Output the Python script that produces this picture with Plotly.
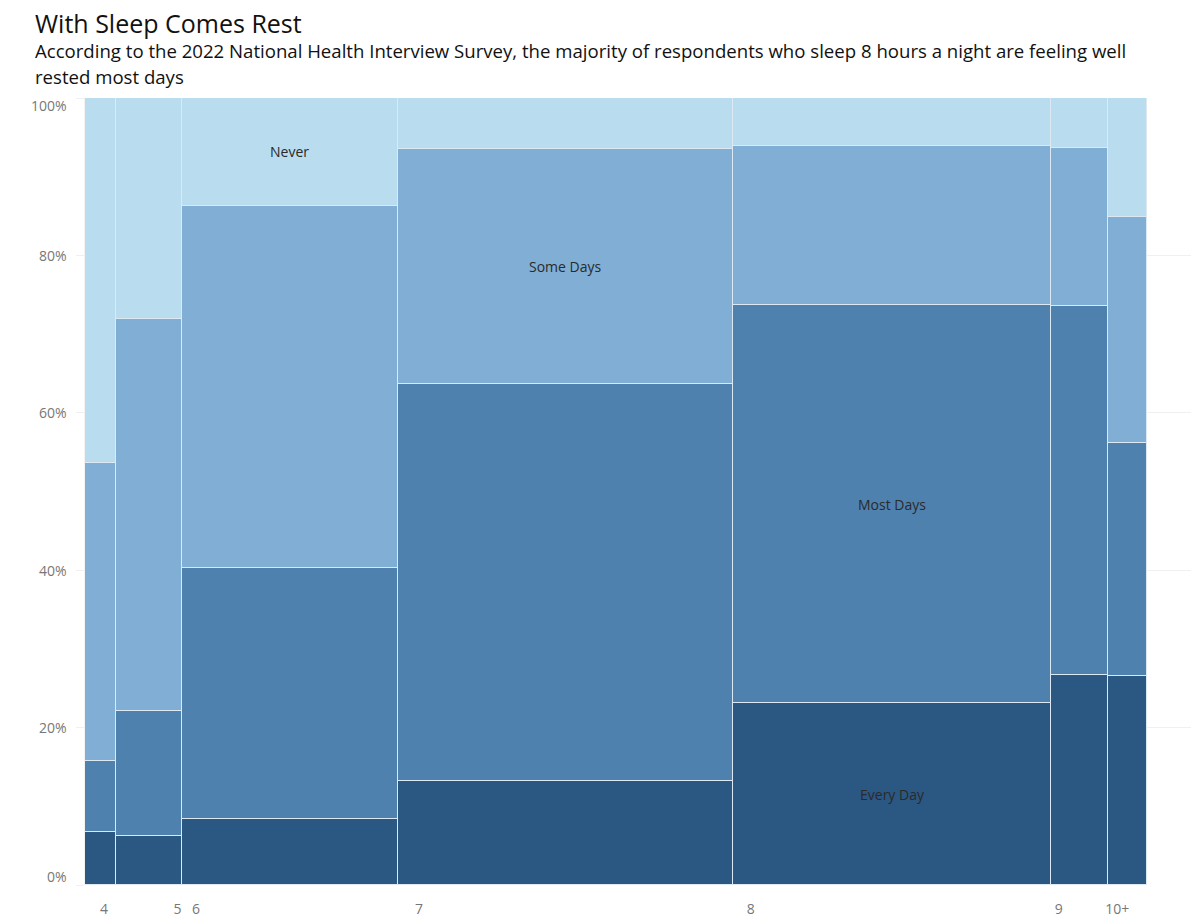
import plotly.graph_objects as go

# ---- data ----
hours = ["4", "5", "6", "7", "8", "9", "10+"]
share_of_respondents = [2.9, 6.2, 20.4, 31.5, 30.0, 5.3, 3.7]   # column widths (%)
every_day = [6.7, 6.2, 8.4, 13.2, 23.1, 26.7, 26.6]
most_days = [9.1, 15.9, 31.9, 50.5, 50.6, 46.9, 29.6]
some_days = [37.8, 49.8, 46.0, 29.8, 20.2, 20.0, 28.7]
never = [46.4, 28.1, 13.7, 6.5, 6.1, 6.4, 15.1]
series_names = ["Every Day", "Most Days", "Some Days", "Never"]
y_ticks = [0, 20, 40, 60, 80, 100]

# ---- layout constants ----
colors = ["#2b5783", "#4f81af", "#80aed4", "#b9dcef"]
border = "#dce8f2"
tick_offsets = [1.8, 5.8, 1.35, 1.95, 1.7, 0.7, 0.9]
label_cols = {"Never": 2, "Some Days": 3, "Most Days": 4, "Every Day": 4}
y_label_shift = {0: 9, 100: -7}

starts = []
acc = 0.0
for w in share_of_respondents:
    starts.append(acc)
    acc += w
centers = [s + w / 2 for s, w in zip(starts, share_of_respondents)]
total = acc

series = [every_day, most_days, some_days, never]

fig = go.Figure()
for name, vals, col in zip(series_names, series, colors):
    fig.add_trace(go.Bar(
        x=centers, y=vals, width=share_of_respondents, name=name,
        marker=dict(color=col, line=dict(color=border, width=1.2)),
        hoverinfo="name+y", showlegend=False,
    ))

# segment labels at segment centres
for si, name in enumerate(series_names):
    ci = label_cols[name]
    base = sum(series[k][ci] for k in range(si))
    fig.add_annotation(
        x=centers[ci], y=base + series[si][ci] / 2, text=name, showarrow=False,
        font=dict(family="Open Sans", size=14, color="#2a2a2a"),
    )

tickvals = [s + o for s, o in zip(starts, tick_offsets)]

L, R, T, B = 85, 9, 98, 32
H = 917 - T - B
fig.update_layout(
    width=1200, height=917,
    margin=dict(l=L, r=R, t=T, b=B, autoexpand=False),
    barmode="stack", bargap=0,
    plot_bgcolor="white", paper_bgcolor="white",
    font=dict(family="Open Sans", color="#666"),
    xaxis=dict(
        range=[0, total * 1106 / 1062], tickvals=tickvals, ticktext=hours,
        showgrid=False, zeroline=False, showline=False, ticks="",
        ticklabelstandoff=14, automargin=False,
        tickfont=dict(size=14, color="#777"), fixedrange=True,
    ),
    yaxis=dict(
        range=[0, 100], tickvals=y_ticks, showticklabels=False,
        showgrid=True, gridcolor="#f0f0f0", gridwidth=1, zeroline=False,
        ticks="outside", ticklen=8, tickcolor="#f0f0f0", automargin=False,
        showline=True, linecolor="#f3f3f3", fixedrange=True,
    ),
)

# y tick labels (nudged inward at the ends, as in the original)
for v in y_ticks:
    fig.add_annotation(
        x=0, xref="paper", y=v, yref="y", text=f"{v}%", showarrow=False,
        xanchor="right", yanchor="middle", xshift=-16, yshift=y_label_shift.get(v, 0),
        font=dict(family="Open Sans", size=14, color="#777"),
    )

fig.add_annotation(
    text="With Sleep Comes Rest", xref="paper", yref="paper",
    x=(33 - L) / 1106, y=1 + (T - 23) / H, xanchor="left", yanchor="middle",
    showarrow=False, font=dict(family="Open Sans", size=25, color="#111"),
)
fig.add_annotation(
    text="According to the 2022 National Health Interview Survey, the majority of respondents who sleep 8 hours a night are feeling well",
    xref="paper", yref="paper",
    x=(33 - L) / 1106, y=1 + (T - 51) / H, xanchor="left", yanchor="middle",
    showarrow=False, font=dict(family="Open Sans", size=18.6, color="#111"),
)
fig.add_annotation(
    text="rested most days",
    xref="paper", yref="paper",
    x=(33 - L) / 1106, y=1 + (T - 76) / H, xanchor="left", yanchor="middle",
    showarrow=False, font=dict(family="Open Sans", size=18.6, color="#111"),
)

fig.write_html("out.html")
